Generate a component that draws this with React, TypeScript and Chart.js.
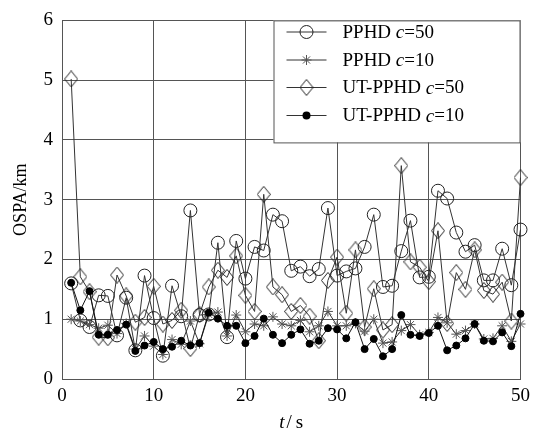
import React, { useEffect, useRef } from "react";
import { Chart, registerables } from "chart.js";

Chart.register(...registerables);

// ---- data ----
const timeSteps = [
  1, 2, 3, 4, 5, 6, 7, 8, 9, 10,
  11, 12, 13, 14, 15, 16, 17, 18, 19, 20,
  21, 22, 23, 24, 25, 26, 27, 28, 29, 30,
  31, 32, 33, 34, 35, 36, 37, 38, 39, 40,
  41, 42, 43, 44, 45, 46, 47, 48, 49, 50,
];

const pphdC50 = [
  1.6, 0.98, 0.87, 1.4, 1.39, 0.73, 1.36, 0.48, 1.73, 1.02,
  0.39, 1.56, 1.05, 2.82, 1.07, 1.08, 2.28, 0.7, 2.31, 1.68,
  2.21, 2.15, 2.75, 2.64, 1.81, 1.88, 1.72, 1.84, 2.86, 1.73,
  1.8, 1.85, 2.21, 2.75, 1.54, 1.56, 2.14, 2.65, 1.7, 1.71,
  3.15, 3.02, 2.45, 2.13, 2.24, 1.65, 1.65, 2.18, 1.57, 2.5,
];

const pphdC10 = [
  1.0, 0.97, 0.91, 0.85, 0.9, 0.76, 0.93, 0.5, 0.72, 0.55,
  0.41, 0.66, 0.58, 0.97, 0.59, 1.08, 1.12, 0.72, 1.07, 0.79,
  0.92, 0.89, 1.04, 0.92, 0.89, 0.98, 0.79, 0.89, 1.13, 0.89,
  0.89, 0.93, 0.8, 1.0, 0.6, 0.62, 0.81, 0.91, 0.74, 0.78,
  1.03, 0.94, 0.75, 0.81, 0.92, 0.67, 0.68, 0.89, 0.63, 0.92,
];

const utPphdC50 = [
  5.02, 1.71, 1.46, 0.7, 0.69, 1.74, 1.39, 0.95, 1.03, 1.55,
  0.92, 0.98, 1.15, 0.51, 1.08, 1.54, 1.82, 1.7, 2.06, 1.4,
  1.13, 3.09, 1.54, 1.41, 1.13, 1.23, 1.05, 0.64, 1.65, 2.04,
  1.1, 2.16, 0.87, 1.51, 0.82, 0.91, 3.57, 1.96, 1.87, 1.63,
  2.48, 0.93, 1.78, 1.5, 2.16, 1.48, 1.42, 1.62, 0.97, 3.37,
];

const utPphdC10 = [
  1.61, 1.15, 1.47, 0.74, 0.74, 0.82, 0.91, 0.47, 0.56, 0.62,
  0.5, 0.54, 0.64, 0.56, 0.6, 1.11, 1.01, 0.89, 0.89, 0.6,
  0.72, 1.01, 0.74, 0.6, 0.74, 0.83, 0.59, 0.64, 0.85, 0.83,
  0.68, 0.95, 0.5, 0.67, 0.38, 0.5, 1.07, 0.74, 0.72, 0.77,
  0.89, 0.48, 0.56, 0.68, 0.92, 0.64, 0.63, 0.78, 0.55, 1.09,
];

const seriesNames = [
  ["PPHD ", "c", "=50"],
  ["PPHD ", "c", "=10"],
  ["UT-PPHD ", "c", "=50"],
  ["UT-PPHD ", "c", "=10"],
];

const xAxisTitle = ["t", "/", "s"];
const yAxisTitle = "OSPA/km";
const xMin = 0;
const xMax = 50;
const xStep = 10;
const yMin = 0;
const yMax = 6;
const yStep = 1;

const FONT = "'Liberation Serif', 'Times New Roman', serif";
const LINE = "#333";
const GRID = "#555";

function makeDiamond(w: number, h: number, color: string) {
  const c = document.createElement("canvas");
  c.width = w;
  c.height = h;
  const g = c.getContext("2d")!;
  g.strokeStyle = color;
  g.lineWidth = 1;
  g.beginPath();
  g.moveTo(w / 2, 0.5);
  g.lineTo(w - 0.5, h / 2);
  g.lineTo(w / 2, h - 0.5);
  g.lineTo(0.5, h / 2);
  g.closePath();
  g.stroke();
  return c;
}

function drawMixed(ctx: CanvasRenderingContext2D, parts: string[], x: number, y: number, size: number, gaps: number[] = []) {
  let cx = x;
  parts.forEach((p, i) => {
    ctx.font = (i === 1 && parts.length === 3 && p === "c" ? "italic " : i === 0 && p === "t" ? "italic " : "") + size + "px " + FONT;
    ctx.fillText(p, cx, y);
    cx += ctx.measureText(p).width + (gaps[i] || 0);
  });
}

export default function App() {
  const ref = useRef<HTMLCanvasElement>(null);

  useEffect(() => {
    if (!ref.current) return;
    const diamond = makeDiamond(14, 17, "#222");

    const legendPlugin = {
      id: "boxLegend",
      afterDatasetsDraw(chart: any) {
        const ctx = chart.ctx as CanvasRenderingContext2D;
        const area = chart.chartArea;
        const left = area.right - 247;
        const top = area.top;
        const bottom = area.top + 122;
        ctx.save();
        ctx.fillStyle = "#fff";
        ctx.fillRect(left, top, area.right - left, bottom - top);
        ctx.strokeStyle = GRID;
        ctx.lineWidth = 1;
        ctx.strokeRect(left + 0.5, top + 0.5, area.right - left - 1, bottom - top);
        const rowY = [32, 60, 87.5, 115.5];
        const lx0 = left + 13;
        const lx1 = left + 53;
        const mx = left + 33;
        rowY.forEach((y, i) => {
          ctx.strokeStyle = LINE;
          ctx.lineWidth = 1;
          ctx.beginPath();
          ctx.moveTo(lx0, y);
          ctx.lineTo(lx1, y);
          ctx.stroke();
          if (i === 0) {
            ctx.strokeStyle = "#222";
            ctx.beginPath();
            ctx.arc(mx, y, 6.5, 0, Math.PI * 2);
            ctx.stroke();
          } else if (i === 1) {
            ctx.strokeStyle = "#555";
            ctx.beginPath();
            const r = 5;
            for (let k = 0; k < 4; k++) {
              const a = (k * Math.PI) / 4;
              ctx.moveTo(mx - Math.cos(a) * r, y - Math.sin(a) * r);
              ctx.lineTo(mx + Math.cos(a) * r, y + Math.sin(a) * r);
            }
            ctx.stroke();
          } else if (i === 2) {
            ctx.drawImage(diamond, mx - 7, y - 8.5);
          } else {
            ctx.fillStyle = "#000";
            ctx.beginPath();
            ctx.arc(mx, y, 4, 0, Math.PI * 2);
            ctx.fill();
          }
          ctx.fillStyle = "#000";
          ctx.textBaseline = "middle";
          ctx.textAlign = "left";
          drawMixed(ctx, seriesNames[i], left + 69, y + 1, 19);
        });
        ctx.restore();
      },
      afterDraw(chart: any) {
        const ctx = chart.ctx as CanvasRenderingContext2D;
        const area = chart.chartArea;
        ctx.save();
        ctx.fillStyle = "#000";
        ctx.textBaseline = "alphabetic";
        ctx.textAlign = "left";
        const cx = (area.left + area.right) / 2;
        drawMixed(ctx, xAxisTitle, cx - 12, 428, 19, [2, 4, 0]);
        ctx.restore();
      },
    };

    const mk = (vals: number[]) => timeSteps.map((t, i) => ({ x: t, y: vals[i] }));

    const chart = new Chart(ref.current, {
      type: "line",
      data: {
        datasets: [
          {
            label: seriesNames[0].join(""),
            data: mk(pphdC50),
            borderColor: LINE,
            borderWidth: 1,
            pointStyle: "circle",
            pointRadius: 6.5,
            pointBorderColor: "#222",
            pointBackgroundColor: "rgba(0,0,0,0)",
            pointBorderWidth: 1,
            fill: false,
            tension: 0,
            clip: false,
            order: 3,
          },
          {
            label: seriesNames[1].join(""),
            data: mk(pphdC10),
            borderColor: LINE,
            borderWidth: 1,
            pointStyle: "star",
            pointRadius: 5,
            pointBorderColor: "#555",
            pointBackgroundColor: "rgba(0,0,0,0)",
            pointBorderWidth: 1,
            fill: false,
            tension: 0,
            clip: false,
            order: 1,
          },
          {
            label: seriesNames[2].join(""),
            data: mk(utPphdC50),
            borderColor: LINE,
            borderWidth: 1,
            pointStyle: diamond as any,
            pointRadius: 7,
            fill: false,
            tension: 0,
            clip: false,
            order: 2,
          },
          {
            label: seriesNames[3].join(""),
            data: mk(utPphdC10),
            borderColor: "#111",
            borderWidth: 1,
            pointStyle: "circle",
            pointRadius: 3.5,
            pointBorderColor: "#000",
            pointBackgroundColor: "#000",
            pointBorderWidth: 1,
            fill: false,
            tension: 0,
            clip: false,
            order: 0,
          },
        ],
      },
      options: {
        animation: false,
        responsive: false,
        devicePixelRatio: 1,
        events: [],
        layout: { padding: { top: 13, right: 14, left: 0, bottom: 0 } },
        plugins: { legend: { display: false }, tooltip: { enabled: false } },
        scales: {
          x: {
            type: "linear",
            min: xMin,
            max: xMax,
            ticks: { stepSize: xStep, color: "#000", font: { family: FONT, size: 19 }, padding: 6, maxRotation: 0 },
            grid: { color: GRID, lineWidth: 1, drawTicks: false },
            border: { display: true, color: GRID, width: 1 },
            afterFit: (s: any) => {
              s.height = 53;
            },
          },
          y: {
            type: "linear",
            min: yMin,
            max: yMax,
            ticks: { stepSize: yStep, color: "#000", font: { family: FONT, size: 19 }, padding: 9 },
            grid: { color: GRID, lineWidth: 1, drawTicks: false },
            border: { display: true, color: GRID, width: 1 },
            title: {
              display: true,
              text: yAxisTitle,
              color: "#000",
              font: { family: FONT, size: 18 },
              padding: { top: 10, bottom: 0 },
            },
            afterFit: (s: any) => {
              s.width = 62;
            },
          },
        },
      },
      plugins: [legendPlugin],
    });
    return () => chart.destroy();
  }, []);

  return (
    <div style={{ position: "absolute", left: 0, top: 0, width: 536, height: 432, background: "#fff" }}>
      <canvas ref={ref} width={536} height={432} style={{ display: "block" }} />
    </div>
  );
}
